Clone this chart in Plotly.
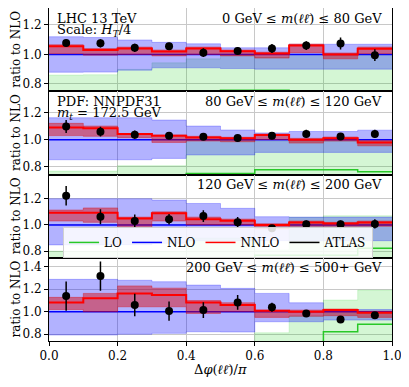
import plotly.graph_objects as go
from plotly.subplots import make_subplots

# bin edges / centres in delta phi / pi
edges = [0.0, 0.1, 0.2, 0.3, 0.4, 0.5, 0.6, 0.7, 0.8, 0.9, 1.0]
centres = [0.05, 0.15, 0.25, 0.35, 0.45, 0.55, 0.65, 0.75, 0.85, 0.95]

mll_labels = [
    "0 GeV ≤ <i>m</i>(<i>ℓℓ\u0304</i>) ≤ 80 GeV",
    "80 GeV ≤ <i>m</i>(<i>ℓℓ\u0304</i>) ≤ 120 GeV",
    "120 GeV ≤ <i>m</i>(<i>ℓℓ\u0304</i>) ≤ 200 GeV",
    "200 GeV ≤ <i>m</i>(<i>ℓℓ\u0304</i>) ≤ 500+ GeV",
]

# ---- panel 1: 0 - 80 GeV
atlas1 = [1.077, 1.075, 1.045, 1.055, 1.012, 1.024, 1.040, 1.060, 1.074, 0.995]
atlas1_err = [0.025, 0.028, 0.028, 0.025, 0.030, 0.025, 0.030, 0.030, 0.040, 0.040]
nnlo1 = [1.055, 1.030, 1.040, 1.020, 1.040, 1.022, 1.007, 1.060, 1.000, 1.038]
nnlo1_lo = [1.005, 0.995, 1.000, 0.990, 1.000, 0.990, 0.975, 1.012, 0.970, 1.005]
nnlo1_hi = [1.066, 1.040, 1.050, 1.030, 1.050, 1.030, 1.015, 1.070, 1.010, 1.050]
nlo1_lo = [0.879, 0.880, 0.893, 0.909, 0.909, 0.904, 0.900, 0.900, 0.900, 0.900]
nlo1_hi = [1.120, 1.115, 1.098, 1.082, 1.072, 1.045, 1.045, 1.069, 1.069, 1.069]
lo1 = [0.700, 0.700, 0.720, 0.730, 0.745, 0.757, 0.757, 0.745, 0.740, 0.740]
lo1_lo = [0.600, 0.600, 0.600, 0.600, 0.600, 0.600, 0.600, 0.600, 0.600, 0.600]
lo1_hi = [0.860, 0.862, 0.898, 0.943, 0.970, 1.000, 0.980, 1.000, 1.000, 1.000]

# ---- panel 2: 80 - 120 GeV
atlas2 = [1.097, 1.059, 1.037, 1.029, 1.022, 1.012, 1.029, 1.042, 1.024, 1.042]
atlas2_err = [0.048, 0.035, 0.030, 0.025, 0.025, 0.025, 0.025, 0.030, 0.025, 0.030]
nnlo2 = [1.090, 1.083, 1.042, 1.029, 1.017, 1.010, 1.034, 1.000, 1.010, 0.980]
nnlo2_lo = [1.030, 1.025, 1.015, 0.980, 0.990, 0.985, 1.000, 0.975, 0.990, 0.955]
nnlo2_hi = [1.120, 1.100, 1.045, 1.035, 1.025, 1.018, 1.042, 1.010, 1.020, 0.995]
nlo2_lo = [0.853, 0.853, 0.853, 0.863, 0.888, 0.888, 0.907, 0.907, 0.907, 0.907]
nlo2_hi = [1.161, 1.161, 1.161, 1.144, 1.100, 1.071, 1.050, 1.060, 1.060, 1.070]
lo2 = [0.700, 0.700, 0.720, 0.730, 0.753, 0.753, 0.780, 0.780, 0.780, 0.766]
lo2_lo = [0.600, 0.600, 0.600, 0.600, 0.600, 0.600, 0.600, 0.600, 0.600, 0.600]
lo2_hi = [0.770, 0.770, 0.810, 0.810, 1.000, 1.000, 0.990, 0.990, 0.990, 0.990]

# ---- panel 3: 120 - 200 GeV
atlas3 = [1.223, 1.063, 1.030, 1.043, 1.068, 1.020, 0.975, 1.005, 1.005, 1.008]
atlas3_err = [0.075, 0.057, 0.050, 0.040, 0.045, 0.040, 0.015, 0.030, 0.030, 0.035]
nnlo3 = [1.094, 1.094, 1.050, 1.089, 1.044, 1.033, 1.000, 1.018, 1.012, 1.018]
nnlo3_lo = [1.030, 1.020, 0.980, 1.030, 1.000, 1.000, 0.970, 0.990, 0.990, 0.990]
nnlo3_hi = [1.114, 1.130, 1.060, 1.100, 1.060, 1.045, 1.010, 1.030, 1.020, 1.030]
nlo3_lo = [0.848, 0.848, 0.850, 0.860, 0.880, 0.880, 0.880, 0.880, 0.880, 0.880]
nlo3_hi = [1.200, 1.200, 1.200, 1.190, 1.164, 1.127, 1.063, 1.060, 1.060, 1.060]
lo3 = [0.700, 0.700, 0.700, 0.720, 0.740, 0.740, 0.770, 0.770, 0.770, 0.823]
lo3_lo = [0.600, 0.600, 0.600, 0.600, 0.600, 0.600, 0.600, 0.600, 0.600, 0.600]
lo3_hi = [0.800, 0.800, 0.800, 0.800, 0.900, 0.900, 0.810, 1.058, 1.070, 1.070]

# ---- panel 4: 200 - 500+ GeV
atlas4 = [1.140, 1.317, 1.060, 1.006, 1.015, 1.083, 1.039, 0.985, 0.932, 0.970]
atlas4_err = [0.130, 0.130, 0.100, 0.085, 0.070, 0.065, 0.040, 0.030, 0.020, 0.020]
nnlo4 = [1.083, 1.119, 1.163, 1.148, 1.083, 1.060, 1.009, 1.000, 1.015, 0.991]
nnlo4_lo = [1.020, 1.000, 1.044, 1.044, 0.985, 1.000, 0.950, 0.960, 0.965, 0.950]
nnlo4_hi = [1.128, 1.163, 1.230, 1.210, 1.100, 1.080, 1.015, 1.015, 1.025, 1.005]
nlo4_lo = [0.793, 0.793, 0.800, 0.808, 0.822, 0.820, 0.911, 0.911, 0.926, 0.926]
nlo4_hi = [1.288, 1.288, 1.280, 1.267, 1.237, 1.208, 1.163, 1.080, 1.020, 1.020]
lo4 = [0.600, 0.600, 0.600, 0.600, 0.600, 0.600, 0.650, 0.700, 0.822, 0.890]
lo4_lo = [0.500, 0.500, 0.500, 0.500, 0.500, 0.500, 0.500, 0.500, 0.500, 0.500]
lo4_hi = [0.700, 0.700, 0.700, 0.700, 0.700, 0.700, 0.813, 0.962, 1.104, 1.193]

panels = [
    dict(atlas=atlas1, err=atlas1_err, nnlo=nnlo1, nnlo_lo=nnlo1_lo, nnlo_hi=nnlo1_hi,
         nlo_lo=nlo1_lo, nlo_hi=nlo1_hi, lo=lo1, lo_lo=lo1_lo, lo_hi=lo1_hi, yr=[0.75, 1.315]),
    dict(atlas=atlas2, err=atlas2_err, nnlo=nnlo2, nnlo_lo=nnlo2_lo, nnlo_hi=nnlo2_hi,
         nlo_lo=nlo2_lo, nlo_hi=nlo2_hi, lo=lo2, lo_lo=lo2_lo, lo_hi=lo2_hi, yr=[0.745, 1.355]),
    dict(atlas=atlas3, err=atlas3_err, nnlo=nnlo3, nnlo_lo=nnlo3_lo, nnlo_hi=nnlo3_hi,
         nlo_lo=nlo3_lo, nlo_hi=nlo3_hi, lo=lo3, lo_lo=lo3_lo, lo_hi=lo3_hi, yr=[0.75, 1.385]),
    dict(atlas=atlas4, err=atlas4_err, nnlo=nnlo4, nnlo_lo=nnlo4_lo, nnlo_hi=nnlo4_hi,
         nlo_lo=nlo4_lo, nlo_hi=nlo4_hi, lo=lo4, lo_lo=lo4_lo, lo_hi=lo4_hi, yr=[0.74, 1.48]),
]

GREEN = "rgb(40,200,40)"
GREEN_BAND = "rgba(0,200,0,0.17)"
BLUE = "rgb(0,0,255)"
BLUE_BAND = "rgba(0,0,255,0.3)"
RED = "rgb(255,0,0)"
RED_BAND = "rgba(220,0,0,0.45)"
FONT = "DejaVu Serif"


def step(v):
    # repeat the last value so the hv step covers the final bin
    return list(v) + [v[-1]]


def band(fig, lo, hi, color, row):
    fig.add_trace(go.Scatter(x=edges, y=step(lo), mode="lines", line_shape="hv",
                             line=dict(color=color, width=0.8), showlegend=False,
                             hoverinfo="skip"), row=row, col=1)
    fig.add_trace(go.Scatter(x=edges, y=step(hi), mode="lines", line_shape="hv",
                             line=dict(color=color, width=0.8), fill="tonexty",
                             fillcolor=color, showlegend=False, hoverinfo="skip"),
                  row=row, col=1)


fig = make_subplots(rows=4, cols=1, shared_xaxes=True, vertical_spacing=0)

for i, p in enumerate(panels):
    r = i + 1
    band(fig, p["lo_lo"], p["lo_hi"], GREEN_BAND, r)
    fig.add_trace(go.Scatter(x=edges, y=step(p["lo"]), mode="lines", line_shape="hv",
                             line=dict(color=GREEN, width=1.5), showlegend=False), row=r, col=1)
    band(fig, p["nlo_lo"], p["nlo_hi"], BLUE_BAND, r)
    fig.add_trace(go.Scatter(x=edges, y=step([1.0] * 10), mode="lines", line_shape="hv",
                             line=dict(color=BLUE, width=1.5), showlegend=False), row=r, col=1)
    band(fig, p["nnlo_lo"], p["nnlo_hi"], RED_BAND, r)
    fig.add_trace(go.Scatter(x=edges, y=step(p["nnlo"]), mode="lines", line_shape="hv",
                             line=dict(color=RED, width=2), showlegend=False), row=r, col=1)
    fig.add_trace(go.Scatter(x=centres, y=p["atlas"], mode="markers",
                             marker=dict(color="black", size=8),
                             error_y=dict(type="data", array=p["err"], color="black",
                                          thickness=1.5, width=0),
                             showlegend=False), row=r, col=1)
    fig.update_yaxes(range=p["yr"], row=r, col=1)

# legend entries
for name, col in [("LO", GREEN), ("NLO", BLUE), ("NNLO", RED), ("ATLAS", "black")]:
    fig.add_trace(go.Scatter(x=[None], y=[None], mode="lines", name=name,
                             line=dict(color=col, width=1.5)), row=3, col=1)

fig.update_yaxes(
    dtick=0.2, tick0=0, tickformat=".1f",
    showline=True, linecolor="black", linewidth=1, mirror=True,
    ticks="outside", ticklen=4, tickcolor="black",
    showgrid=True, gridcolor="#c8c8c8", gridwidth=1, zeroline=False,
    automargin=False, tickfont=dict(size=12),
)
fig.update_xaxes(
    range=[0, 1], dtick=0.2, tick0=0, tickformat=".1f",
    showline=True, linecolor="black", linewidth=1, mirror=True,
    showgrid=True, gridcolor="#c8c8c8", gridwidth=1, zeroline=False,
    automargin=False, tickfont=dict(size=12),
)
fig.update_xaxes(ticks="outside", ticklen=4, tickcolor="black", row=4, col=1)

annos = []
for i, lab in enumerate(mll_labels):
    ax = "x" if i == 0 else "x%d" % (i + 1)
    ay = "y" if i == 0 else "y%d" % (i + 1)
    annos.append(dict(text=lab, xref=ax + " domain", yref=ay + " domain", x=1, y=1,
                      xanchor="right", yanchor="middle", xshift=-8, yshift=-10,
                      showarrow=False, font=dict(size=13)))
    # y-axis title of each panel
    annos.append(dict(text="ratio to NLO", xref=ax + " domain", yref=ay + " domain",
                      x=0, y=0.5, xanchor="center", yanchor="middle", xshift=-33,
                      textangle=-90, showarrow=False, font=dict(size=12)))
left_text = [
    ("LHC 13 TeV", "x", "y", -10),
    ("Scale: <i>H</i><sub><i>T</i></sub>/4", "x", "y", -22),
    ("PDF: NNPDF31", "x2", "y2", -10),
    ("<i>m</i><sub><i>t</i></sub> = 172.5 GeV", "x2", "y2", -22),
]
for txt, ax, ay, ys in left_text:
    annos.append(dict(text=txt, xref=ax + " domain", yref=ay + " domain", x=0, y=1,
                      xanchor="left", yanchor="middle", xshift=6, yshift=ys,
                      showarrow=False, font=dict(size=13)))
# x-axis title
annos.append(dict(text="Δ<i>φ</i>(<i>ℓℓ\u0304</i>)/<i>π</i>", xref="x4 domain",
                  yref="y4 domain", x=0.5, y=0, xanchor="center", yanchor="middle",
                  yshift=-28, showarrow=False, font=dict(size=13)))

# the page body adds an 8 px offset, so the figure is drawn 8 px smaller
fig.update_layout(
    width=401, height=379,
    margin=dict(l=41, r=17, t=0, b=46),
    paper_bgcolor="white", plot_bgcolor="white",
    font=dict(family=FONT, color="black", size=12),
    annotations=annos,
    legend=dict(orientation="h", x=0.041, y=0.296, xanchor="left", yanchor="middle",
                bgcolor="rgba(255,255,255,0.85)", bordercolor="#d0d0d0", borderwidth=1,
                font=dict(size=12), itemwidth=30, traceorder="normal",
                tracegroupgap=0),
)

fig.write_html("out.html")
